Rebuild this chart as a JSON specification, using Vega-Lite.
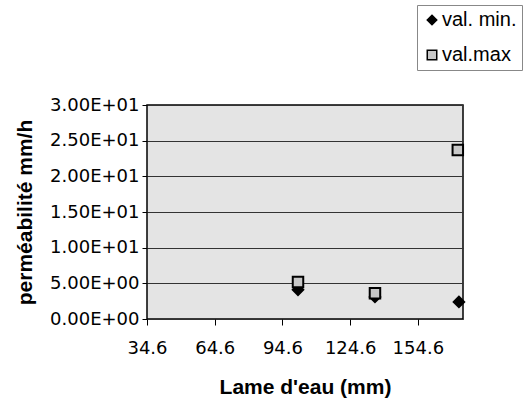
{
  "$schema": "https://vega.github.io/schema/vega-lite/v6.json",
  "autosize": "none",
  "width": 316,
  "height": 214,
  "padding": {"left": 147, "top": 105, "right": 63, "bottom": 86},
  "background": "white",
  "config": {
    "font": "Liberation Sans",
    "view": {"fill": "#e4e4e4", "stroke": "black", "strokeWidth": 1.5}
  },
  "data": {
    "values": [
      {"lame": 101.5, "perm": 4.1, "serie": "val. min."},
      {"lame": 135.6, "perm": 3.1, "serie": "val. min."},
      {"lame": 172.8, "perm": 2.4, "serie": "val. min."},
      {"lame": 101.5, "perm": 5.2, "serie": "val.max"},
      {"lame": 135.6, "perm": 3.6, "serie": "val.max"},
      {"lame": 172.3, "perm": 23.7, "serie": "val.max"}
    ]
  },
  "mark": {"type": "point", "filled": true, "stroke": "black", "strokeWidth": 2, "size": 110, "opacity": 1},
  "encoding": {
    "x": {
      "field": "lame",
      "type": "quantitative",
      "scale": {"domain": [34.6, 174.6], "nice": false, "zero": false},
      "axis": {
        "title": "Lame d'eau (mm)",
        "titleFontSize": 21,
        "titleFontWeight": "bold",
        "titleColor": "black",
        "titlePadding": 19,
        "values": [34.6, 64.6, 94.6, 124.6, 154.6],
        "format": ".1f",
        "labelFont": "DejaVu Sans",
        "labelFontSize": 18,
        "labelColor": "black",
        "labelPadding": 14,
        "labelFlush": false,
        "labelOverlap": false,
        "grid": false,
        "domain": false,
        "tickColor": "black",
        "tickSize": 6
      }
    },
    "y": {
      "field": "perm",
      "type": "quantitative",
      "scale": {"domain": [0, 30], "nice": false},
      "axis": {
        "title": "perméabilité mm/h",
        "titleFontSize": 21,
        "titleFontWeight": "bold",
        "titleColor": "black",
        "titlePadding": 14,
        "values": [0, 5, 10, 15, 20, 25, 30],
        "labelExpr": "datum.value >= 10 ? format(datum.value / 10, '.2f') + 'E+01' : format(datum.value, '.2f') + 'E+00'",
        "labelFont": "DejaVu Sans",
        "labelFontSize": 18,
        "labelColor": "black",
        "labelPadding": 3,
        "labelFlush": false,
        "grid": true,
        "gridColor": "#333333",
        "gridWidth": 1,
        "domain": false,
        "tickColor": "black",
        "tickSize": 5
      }
    },
    "shape": {
      "field": "serie",
      "type": "nominal",
      "scale": {"domain": ["val. min.", "val.max"], "range": ["diamond", "square"]},
      "legend": {
        "title": null,
        "orient": "none",
        "legendX": 270,
        "legendY": -100,
        "padding": 5,
        "rowPadding": 15,
        "labelFontSize": 20,
        "labelColor": "black",
        "labelOffset": 0,
        "strokeColor": "#888888",
        "fillColor": "white",
        "symbolSize": 90,
        "symbolStrokeWidth": 1.5,
        "symbolOffset": 0
      }
    },
    "fill": {
      "field": "serie",
      "type": "nominal",
      "scale": {"domain": ["val. min.", "val.max"], "range": ["black", "#c8c8c8"]},
      "legend": null
    }
  }
}
